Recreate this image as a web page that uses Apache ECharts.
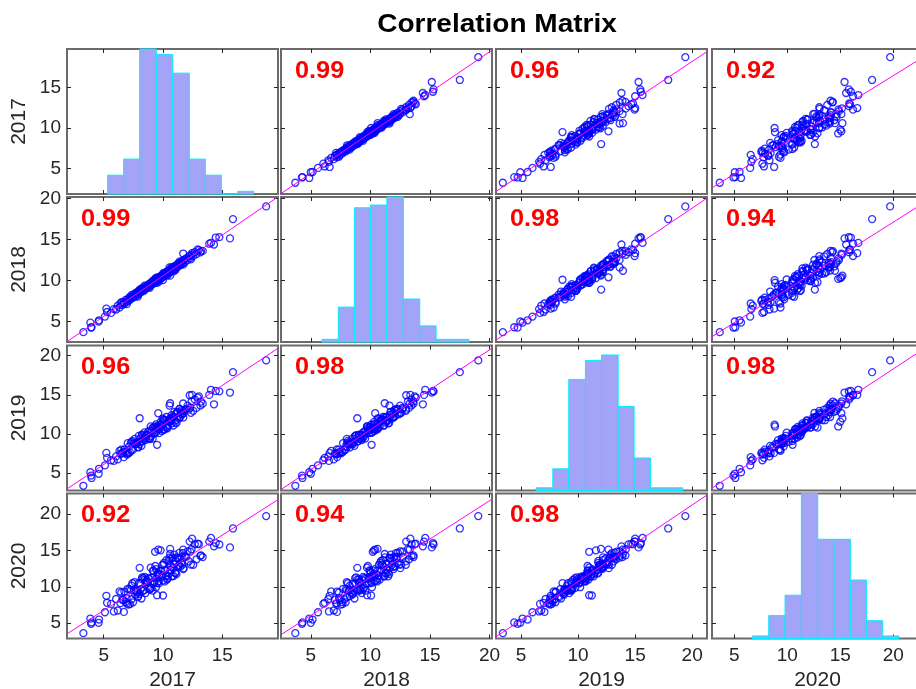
<!DOCTYPE html>
<html>
<head>
<meta charset="utf-8">
<title>Correlation Matrix</title>
<script src="https://cdn.jsdelivr.net/npm/echarts@6.0.0/dist/echarts.min.js"></script>
<style>
  html, body { margin: 0; padding: 0; background: #fff; }
  #chart { width: 916px; height: 689px; }
</style>
</head>
<body>
<div id="chart"></div>
<script>
// variable names shown on the axes
const years = ['2017', '2018', '2019', '2020'];

// coefficient printed in each off-diagonal panel (row, col)
const corrLabels = [
  [null, '0.99', '0.96', '0.92'],
  ['0.99', null, '0.98', '0.94'],
  ['0.96', '0.98', null, '0.98'],
  ['0.92', '0.94', '0.98', null]
];

// observations, one entry per point, same order in every year
const v2017 = [
  5.62, 5.85, 6.04, 6.18, 6.33, 6.41, 6.57, 6.66, 6.74, 6.85,
  6.93, 7.02, 7.08, 7.15, 7.21, 7.29, 7.34, 7.42, 7.47, 7.55,
  7.61, 7.66, 7.73, 7.78, 7.84, 7.91, 7.96, 8.02, 8.07, 8.13,
  8.18, 8.24, 8.29, 8.35, 8.41, 8.46, 8.52, 8.57, 8.63, 8.68,
  8.74, 8.79, 8.85, 8.91, 8.96, 9.02, 9.07, 9.13, 9.18, 9.24,
  9.29, 9.35, 9.41, 9.46, 9.52, 9.57, 9.63, 9.68, 9.74, 9.79,
  9.85, 9.91, 9.96, 10.02, 10.07, 10.13, 10.18, 10.24, 10.29, 10.35,
  10.41, 10.46, 10.52, 10.57, 10.63, 10.68, 10.74, 10.79, 10.85, 10.91,
  10.96, 11.02, 11.07, 11.13, 11.18, 11.24, 11.29, 11.35, 11.41, 11.46,
  11.52, 11.57, 11.63, 11.68, 11.74, 11.85, 11.96, 12.07, 12.18, 12.29,
  12.41, 12.55, 12.68, 12.83, 13.02,
  8.22, 8.88, 9.15, 9.66, 10.05, 10.38, 10.72, 11.05, 11.38, 11.71,
  7.35, 7.88, 6.48, 6.95, 12.35, 9.42, 10.88, 8.44, 12.92, 13.35,
  18.70, 15.90, 15.65, 14.75, 14.30, 14.05, 14.45, 13.90, 13.20, 13.15,
  12.45, 12.25, 11.70, 10.60, 10.60, 10.55, 9.80, 9.33, 9.60, 9.50,
  10.00, 9.50, 8.03, 5.28, 5.22, 5.10, 4.60, 4.57, 3.97, 3.93,
  3.87, 3.28, 6.70
];
const v2018 = [
  6.05, 6.52, 6.47, 6.93, 6.71, 7.18, 7.02, 7.41, 7.19, 7.63,
  7.37, 7.71, 7.52, 7.94, 7.66, 8.03, 7.83, 8.11, 7.92, 8.31,
  8.02, 8.45, 8.18, 8.39, 8.61, 8.27, 8.73, 8.55, 8.49, 8.94,
  8.66, 8.81, 8.97, 8.72, 9.16, 8.88, 9.27, 9.03, 9.35, 9.14,
  9.49, 9.22, 9.58, 9.36, 9.71, 9.47, 9.83, 9.56, 9.92, 9.68,
  10.05, 9.79, 10.13, 9.91, 10.27, 10.02, 10.36, 10.14, 10.48, 10.23,
  10.59, 10.33, 10.71, 10.45, 10.82, 10.57, 10.93, 10.66, 11.05, 10.78,
  11.16, 10.89, 11.28, 11.01, 11.37, 11.12, 11.49, 11.23, 11.61, 11.35,
  11.72, 11.46, 11.83, 11.57, 11.95, 11.68, 12.06, 11.79, 12.17, 11.91,
  12.28, 12.02, 12.39, 12.13, 12.51, 12.26, 12.72, 12.49, 12.96, 12.71,
  13.15, 12.98, 13.46, 13.24, 13.72,
  9.05, 9.11, 9.98, 9.88, 10.95, 10.61, 11.63, 11.29, 12.31, 11.94,
  8.26, 8.05, 7.36, 7.12, 12.58, 10.36, 11.12, 9.38, 13.81, 13.62,
  19.05, 17.50, 15.15, 15.30, 14.40, 14.60, 15.25, 14.50, 13.60, 13.45,
  13.35, 13.00, 13.30, 10.60, 11.20, 11.60, 10.30, 10.20, 10.40, 9.73,
  10.06, 10.10, 8.90, 6.16, 6.58, 5.60, 5.15, 5.00, 4.30, 4.26,
  4.87, 3.70, 7.20
];
const v2019 = [
  6.66, 6.58, 7.15, 6.77, 7.85, 7.49, 7.54, 7.73, 8.03, 7.76,
  7.56, 8.84, 7.54, 8.43, 7.67, 8.85, 7.94, 9.12, 8.01, 8.83,
  9.39, 8.77, 8.71, 8.74, 8.98, 8.29, 9.77, 8.71, 9.43, 9.06,
  8.50, 9.87, 9.11, 9.73, 9.39, 9.55, 9.23, 9.84, 9.92, 9.87,
  10.26, 9.43, 10.44, 9.47, 10.97, 9.76, 10.44, 9.43, 10.86, 10.09,
  10.17, 10.83, 10.18, 10.53, 10.76, 10.91, 10.67, 10.62, 10.91, 11.24,
  11.23, 10.39, 11.96, 10.58, 11.77, 10.57, 11.68, 10.81, 12.18, 10.91,
  11.12, 11.77, 11.74, 11.88, 11.65, 11.84, 11.37, 12.18, 12.11, 12.17,
  12.83, 11.72, 12.56, 11.39, 12.78, 12.81, 12.27, 11.99, 13.21, 12.17,
  12.57, 13.08, 12.51, 12.95, 12.69, 13.08, 13.18, 13.63, 13.12, 13.36,
  14.18, 12.96, 14.42, 13.34, 14.81,
  9.94, 9.36, 10.82, 10.12, 11.86, 10.74, 12.41, 11.46, 13.22, 12.12,
  9.01, 8.36, 8.02, 7.38, 12.71, 11.24, 11.09, 10.21, 14.66, 13.88,
  19.40, 17.90, 15.30, 15.45, 13.80, 15.65, 15.50, 15.00, 14.15, 13.65,
  15.00, 14.95, 13.90, 12.00, 13.93, 13.64, 11.56, 10.97, 12.66, 10.97,
  11.20, 8.63, 12.02, 6.97, 7.60, 6.00, 5.57, 4.93, 4.40, 4.70,
  5.13, 3.40, 7.05
];
const v2020 = [
  7.65, 6.61, 8.32, 6.74, 9.36, 7.75, 8.22, 8.17, 9.34, 7.91,
  8.43, 9.72, 7.55, 9.67, 7.61, 9.54, 8.29, 10.48, 7.87, 9.52,
  10.65, 8.91, 9.46, 9.22, 9.47, 8.71, 10.48, 9.04, 10.43, 9.66,
  8.39, 11.28, 9.44, 11.18, 9.52, 10.94, 9.13, 10.66, 10.88, 10.65,
  11.21, 9.88, 11.07, 9.69, 12.62, 9.86, 11.24, 9.47, 12.23, 10.51,
  10.66, 12.85, 9.94, 11.13, 11.74, 11.91, 10.76, 11.57, 11.72, 12.22,
  12.18, 11.41, 12.99, 10.87, 13.28, 10.73, 12.26, 11.52, 13.67, 10.99,
  11.41, 13.55, 11.83, 12.97, 12.36, 12.77, 11.43, 14.04, 12.58, 13.09,
  14.42, 11.91, 13.52, 11.73, 14.01, 13.94, 12.78, 12.99, 13.94, 12.75,
  13.26, 14.11, 13.03, 14.62, 12.56, 14.14, 14.11, 14.87, 13.48, 14.83,
  15.15, 13.02, 15.83, 13.77, 15.84,
  11.05, 9.62, 12.15, 10.47, 13.05, 11.12, 13.88, 11.89, 14.65, 12.44,
  10.15, 8.58, 9.21, 7.69, 13.05, 12.41, 11.48, 11.35, 15.92, 14.08,
  19.70, 18.00, 15.40, 15.80, 15.55, 16.70, 16.00, 16.20, 14.30, 14.25,
  16.60, 16.20, 15.10, 15.20, 14.50, 14.00, 15.00, 14.80, 15.10, 8.84,
  8.80, 10.50, 12.60, 7.80, 8.76, 6.50, 5.50, 5.05, 5.10, 4.92,
  5.64, 3.63, 6.55
];

// diagonal histograms: bin edges (in the panel's axis units) and counts
const histEdges2017 = [5.33, 6.68, 8.03, 9.44, 10.82, 12.22, 13.57, 14.92, 16.30, 17.65];
const histCounts2017 = [7, 13, 54, 52, 45, 13, 7, 0, 1];
const histEdges2018 = [5.93, 7.31, 8.66, 10.00, 11.38, 12.76, 14.14, 15.51, 16.89, 18.27];
const histCounts2018 = [1, 13, 50, 51, 54, 16, 6, 1, 1];
const histEdges2019 = [6.32, 7.78, 9.18, 10.64, 12.05, 13.51, 14.91, 16.34, 17.74, 19.17];
const histCounts2019 = [1, 8, 41, 48, 50, 31, 12, 1, 1];
const histEdges2020 = [6.71, 8.25, 9.79, 11.33, 12.87, 14.41, 15.95, 17.46, 19.00, 20.54];
const histCounts2020 = [1, 9, 17, 57, 39, 39, 23, 7, 1];
const histTop = [54, 54, 53.5, 57];

// axis limits per variable and tick labels
const axisMin = [1.9, 2.5, 2.8, 2.9];
const axisMax = [19.7, 20.2, 21.3, 22.8];
const tickValues = [5, 10, 15, 20];

const values = [v2017, v2018, v2019, v2020];
const histEdges = [histEdges2017, histEdges2018, histEdges2019, histEdges2020];
const histCounts = [histCounts2017, histCounts2018, histCounts2019, histCounts2020];

// layout of the 4x4 panels
const colLeft = [67, 281, 496, 712];
const rowTop = [49, 197, 345.5, 493.5];
const panelW = 211, panelH = 145;
const font = 'Liberation Sans';
const textColor = '#262626';

const chart = echarts.init(document.getElementById('chart'), null, { width: 916, height: 689 });

const ticksIn = k => tickValues.filter(t => t >= axisMin[k] && t <= axisMax[k]);

const makeAxis = (grid, pos, k, showLabel, name) => {
    const isY = pos === 'left' || pos === 'right';
    const ticks = ticksIn(k);
    return {
        gridIndex: grid,
        type: 'value',
        position: pos,
        min: axisMin[k],
        max: axisMax[k],
        axisLine: { show: false },
        splitLine: { show: false },
        axisTick: { show: true, inside: true, length: 4, customValues: ticks, lineStyle: { color: textColor, width: 1 } },
        axisLabel: { show: showLabel, customValues: ticks, color: textColor, fontSize: 19, fontFamily: font, margin: isY ? 6 : 8 },
        name: name,
        nameLocation: 'middle',
        nameGap: isY ? 37 : 31,
        nameRotate: isY ? 90 : 0,
        nameTextStyle: { color: textColor, fontSize: 21, fontFamily: font }
    };
};

// least squares fit of y on x, like lsline
const fitLine = (xs, ys) => {
    const n = xs.length;
    const mx = xs.reduce((a, b) => a + b, 0) / n;
    const my = ys.reduce((a, b) => a + b, 0) / n;
    let sxy = 0, sxx = 0;
    for (let k = 0; k < n; k++) {
        sxy += (xs[k] - mx) * (ys[k] - my);
        sxx += (xs[k] - mx) * (xs[k] - mx);
    }
    const slope = sxy / sxx;
    return x => my + slope * (x - mx);
};

const grids = [], xAxes = [], yAxes = [], series = [], graphics = [];

for (let i = 0; i < 4; i++) {
    for (let j = 0; j < 4; j++) {
        const g = grids.length;
        grids.push({
            left: colLeft[j], top: rowTop[i], width: panelW, height: panelH,
            show: true, borderColor: '#6b6b6b', borderWidth: 2, backgroundColor: '#fff',
            outerBoundsMode: 'none'
        });
        const xi = xAxes.length;
        xAxes.push(makeAxis(g, 'bottom', j, i === 3, i === 3 ? years[j] : ''));
        xAxes.push(makeAxis(g, 'top', j, false, ''));
        const yi = yAxes.length;
        yAxes.push(makeAxis(g, 'left', i, j === 0, j === 0 ? years[i] : ''));
        yAxes.push(makeAxis(g, 'right', i, false, ''));

        if (i === j) {
            const hy = yAxes.length;
            yAxes.push({ gridIndex: g, type: 'value', min: 0, max: histTop[i], show: false });
            const bins = histCounts[i].map((c, b) => [histEdges[i][b], histEdges[i][b + 1], c]);
            series.push({
                type: 'custom',
                xAxisIndex: xi,
                yAxisIndex: hy,
                data: bins,
                encode: { x: [0, 1], y: 2 },
                silent: true,
                renderItem: (params, api) => {
                    const p0 = api.coord([api.value(0), api.value(2)]);
                    const p1 = api.coord([api.value(1), 0]);
                    return {
                        type: 'rect',
                        shape: { x: p0[0], y: p0[1], width: p1[0] - p0[0], height: p1[1] - p0[1] },
                        style: { fill: '#a3a3f8', stroke: '#00eeff', lineWidth: 1 }
                    };
                }
            });
        } else {
            const xs = values[j], ys = values[i];
            series.push({
                type: 'scatter',
                xAxisIndex: xi,
                yAxisIndex: yi,
                data: xs.map((x, n) => [x, ys[n]]),
                symbol: 'circle',
                symbolSize: 7,
                silent: true,
                itemStyle: { color: 'rgba(0,0,0,0)', borderColor: '#0000ff', borderWidth: 1.3 }
            });
            const f = fitLine(xs, ys);
            series.push({
                type: 'line',
                xAxisIndex: xi,
                yAxisIndex: yi,
                data: [[axisMin[j], f(axisMin[j])], [axisMax[j], f(axisMax[j])]],
                showSymbol: false,
                silent: true,
                clip: true,
                z: 3,
                lineStyle: { color: '#ff00ff', width: 1 }
            });
            graphics.push({
                type: 'text',
                x: colLeft[j] + 14,
                y: rowTop[i] + 11,
                scaleX: 1.1,
                style: { text: corrLabels[i][j], fill: '#ff0000', font: 'bold 23px ' + font, textAlign: 'left', textVerticalAlign: 'top' },
                z: 100
            });
        }
    }
}

graphics.push({
    type: 'text',
    x: 497,
    y: 25,
    scaleX: 1.12,
    style: { text: 'Correlation Matrix', fill: '#000', font: 'bold 25px ' + font, textAlign: 'center', textVerticalAlign: 'middle' },
    z: 100
});

const option = {
    animation: false,
    backgroundColor: '#fff',
    grid: grids,
    xAxis: xAxes,
    yAxis: yAxes,
    series: series,
    graphic: graphics
};

chart.setOption(option);
</script>
</body>
</html>
